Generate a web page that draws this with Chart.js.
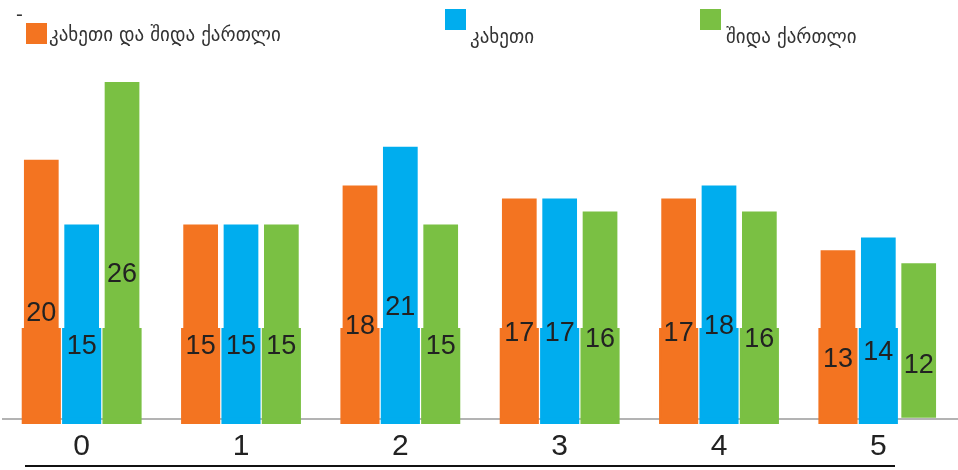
<!DOCTYPE html>
<html>
<head>
<meta charset="utf-8">
<script src="https://cdn.jsdelivr.net/npm/chart.js@4.4.1/dist/chart.umd.min.js"></script>
<style>
  html, body { margin:0; padding:0; background:#fff; }
  #wrap { position:relative; width:958px; height:470px; overflow:hidden; }
  #c { position:absolute; left:0; top:0; }
  .lg { position:absolute; font-family:"DejaVu Sans", sans-serif; font-size:19px; color:#333; white-space:nowrap; line-height:24px; }
  .sw { position:absolute; width:21px; height:21px; }
</style>
</head>
<body>
<div id="wrap">
  <canvas id="c" width="958" height="470"></canvas>
  <div id="legend"></div>
</div>
<script>
const categories = ["0", "1", "2", "3", "4", "5"];
const seriesNames = ["კახეთი და შიდა ქართლი", "კახეთი", "შიდა ქართლი"];
const kakhetiShida = [20, 15, 18, 17, 17, 13];
const kakheti = [15, 15, 21, 17, 18, 14];
const shidaKartli = [26, 15, 15, 16, 16, 12];
const colors = ["#F37421", "#00ADEE", "#7AC043"];
const bandRange = [-0.4, 7];
const bandPresent = [[1,1,1,1,1,1],[1,1,1,1,1,1],[1,1,1,1,1,0]];

const values = [kakhetiShida, kakheti, shidaKartli];

// HTML legend
const legendLayout = [
  {sx:26, sy:23, tx:49, ty:22},
  {sx:445, sy:9, tx:470, ty:24},
  {sx:700, sy:9, tx:726, ty:24}
];
const lg = document.getElementById('legend');
const dash = document.createElement('div');
dash.className = 'lg'; dash.style.left = '16px'; dash.style.top = '2px'; dash.textContent = '-';
lg.appendChild(dash);
seriesNames.forEach((n, i) => {
  const s = document.createElement('div');
  s.className = 'sw'; s.style.background = colors[i];
  s.style.left = legendLayout[i].sx + 'px'; s.style.top = legendLayout[i].sy + 'px';
  lg.appendChild(s);
  const t = document.createElement('div');
  t.className = 'lg'; t.textContent = n;
  t.style.left = legendLayout[i].tx + 'px'; t.style.top = legendLayout[i].ty + 'px';
  lg.appendChild(t);
});

const datasets = [];
values.forEach((v, i) => {
  datasets.push({
    label: seriesNames[i], data: v, backgroundColor: colors[i],
    stack: 's' + i, order: 0, barPercentage: 0.86, categoryPercentage: 0.76, isMain: true
  });
});
values.forEach((v, i) => {
  datasets.push({
    label: seriesNames[i] + ' band',
    data: bandPresent[i].map(p => p ? bandRange.slice() : null),
    backgroundColor: colors[i],
    stack: 's' + i, order: 1, barPercentage: 0.97, categoryPercentage: 0.76, isMain: false
  });
});

const labelPlugin = {
  id: 'valLabels',
  afterDatasetsDraw(chart) {
    const ctx = chart.ctx;
    ctx.save();
    ctx.font = '27px "Liberation Sans", Arial, sans-serif';
    ctx.fillStyle = '#222';
    ctx.textAlign = 'center';
    ctx.textBaseline = 'middle';
    chart.data.datasets.forEach((ds, di) => {
      if (!ds.isMain) return;
      const meta = chart.getDatasetMeta(di);
      meta.data.forEach((el, j) => {
        const y = (el.y + el.base) / 2 + 25;
        ctx.fillText(String(ds.data[j]), el.x, y);
      });
    });
    ctx.restore();
  }
};
const underline = {
  id: 'underline',
  afterDraw(chart) {
    const ctx = chart.ctx;
    const a = chart.chartArea;
    ctx.save();
    ctx.strokeStyle = '#111';
    ctx.lineWidth = 2;
    ctx.beginPath();
    ctx.moveTo(a.left + 23, 466);
    ctx.lineTo(a.right - 63, 466);
    ctx.stroke();
    ctx.restore();
  }
};

new Chart(document.getElementById('c'), {
  type: 'bar',
  data: { labels: categories, datasets },
  options: {
    responsive: false,
    animation: false,
    events: [],
    layout: { padding: { top: 56, left: 2, right: -5, bottom: 0 } },
    plugins: { legend: { display: false }, tooltip: { enabled: false } },
    scales: {
      x: {
        grid: { display: false, drawTicks: false }, border: { display: false },
        ticks: { color: '#222', font: { size: 30, family: '"Liberation Sans", Arial, sans-serif', lineHeight: 1.2 }, padding: 5 }
      },
      y: {
        stacked: true,
        min: bandRange[0], max: 28,
        ticks: { display: false },
        border: { display: false },
        grid: {
          drawTicks: false,
          lineWidth: 2,
          color: c => (c.tick && c.tick.value === 0) ? '#b3b3b3' : 'rgba(0,0,0,0)'
        },
        afterBuildTicks: s => { s.ticks = [{ value: 0 }]; }
      }
    }
  },
  plugins: [labelPlugin, underline]
});
</script>
</body>
</html>
